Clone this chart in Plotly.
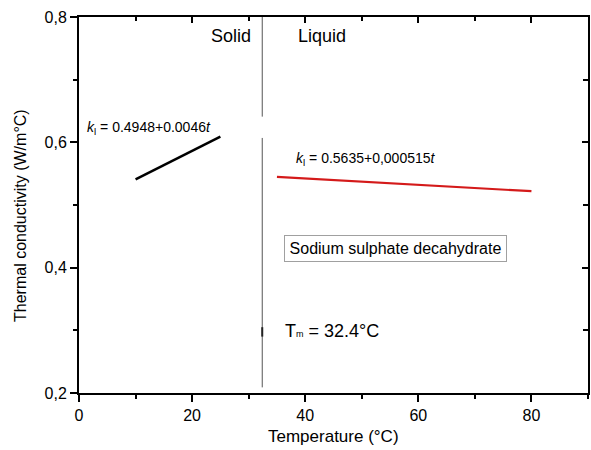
import plotly.graph_objects as go

# Measured thermal conductivity of sodium sulphate decahydrate
solid_t = [10, 25]
solid_k = [0.541, 0.609]
liquid_t = [35, 80]
liquid_k = [0.545, 0.522]

# Melting point marker (two segments with a gap around the equation, plus a short tick)
melt_t = 32.4
melt_upper = [0.641, 0.8]
melt_lower = [0.209, 0.607]
melt_mark = [0.290, 0.305]

x_ticks = [0, 20, 40, 60, 80]
y_ticks = [0.2, 0.4, 0.6, 0.8]
y_labels = ["0,2", "0,4", "0,6", "0,8"]

font_main = "Liberation Sans, Arial, sans-serif"

fig = go.Figure()

fig.add_trace(go.Scatter(x=[melt_t, melt_t], y=melt_upper, mode="lines",
                         line=dict(color="#555555", width=1), showlegend=False))
fig.add_trace(go.Scatter(x=[melt_t, melt_t], y=melt_lower, mode="lines",
                         line=dict(color="#555555", width=1), showlegend=False))
fig.add_trace(go.Scatter(x=[melt_t, melt_t], y=melt_mark, mode="lines",
                         line=dict(color="#222222", width=2), showlegend=False))
fig.add_trace(go.Scatter(x=solid_t, y=solid_k, mode="lines",
                         line=dict(color="black", width=2.5), showlegend=False))
fig.add_trace(go.Scatter(x=liquid_t, y=liquid_k, mode="lines",
                         line=dict(color="#d41a1a", width=2.2), showlegend=False))
# invisible trace to hold the mirrored top/right axes
fig.add_trace(go.Scatter(x=[0, 90], y=[0.2, 0.8], xaxis="x2", yaxis="y2",
                         mode="markers", marker=dict(opacity=0), showlegend=False,
                         hoverinfo="skip"))

axis_common = dict(showgrid=False, zeroline=False, showline=True,
                   linecolor="black", linewidth=2)

fig.update_layout(
    width=591, height=450,
    margin=dict(l=79, r=3, t=17, b=57),
    plot_bgcolor="white", paper_bgcolor="white",
    font=dict(family=font_main, color="black"),
    xaxis=dict(range=[0, 90], tickvals=x_ticks, ticks="outside", ticklen=7,
               tickwidth=2, tickcolor="black", tickfont=dict(size=16),
               minor=dict(dtick=10, ticks="outside", ticklen=4, tickwidth=1.5,
                          tickcolor="black"),
               **axis_common),
    yaxis=dict(range=[0.2, 0.8], tickvals=y_ticks, ticktext=y_labels,
               ticks="outside", ticklen=7, tickwidth=2, tickcolor="black",
               tickfont=dict(size=16),
               minor=dict(dtick=0.1, ticks="outside", ticklen=4, tickwidth=1.5,
                          tickcolor="black"),
               **axis_common),
    xaxis2=dict(range=[0, 90], overlaying="x", side="top", anchor="y",
                tickvals=x_ticks, ticks="inside", ticklen=6, tickwidth=2,
                tickcolor="black", showticklabels=False,
                minor=dict(dtick=10, ticks="inside", ticklen=4, tickwidth=1.5,
                           tickcolor="black"),
                **axis_common),
    yaxis2=dict(range=[0.2, 0.8], overlaying="y", side="right", anchor="x",
                tickvals=y_ticks, ticks="inside", ticklen=6, tickwidth=2,
                tickcolor="black", showticklabels=False,
                minor=dict(dtick=0.1, ticks="inside", ticklen=5, tickwidth=1.5,
                           tickcolor="black"),
                **axis_common),
)

annotations = [
    # axis titles
    dict(x=45.0, xref="x", y=0, yref="paper", yshift=-43, text="Temperature (°C)",
         xanchor="center", font=dict(size=17)),
    dict(x=0, xref="paper", xshift=-58, y=0.4825, yref="y",
         text="Thermal conductivity (W/m°C)", textangle=-90, xanchor="center",
         font=dict(size=16)),
    # phase labels
    dict(x=30.7, y=0.770, text="Solid", xanchor="right", font=dict(size=18)),
    dict(x=38.4, y=0.770, text="Liquid", xanchor="left", font=dict(size=18)),
    # fitted correlations
    dict(x=1.0, y=0.623, text="<i>k</i><sub>l</sub> = 0.4948+0.0046<i>t</i>",
         xanchor="left", font=dict(size=14)),
    dict(x=38.0, y=0.574, text="<i>k</i><sub>l</sub> = 0.5635+0,000515<i>t</i>",
         xanchor="left", font=dict(size=14)),
    # material label
    dict(x=36.3, y=0.430, text="Sodium sulphate decahydrate", xanchor="left",
         font=dict(size=16), bordercolor="#a0a0a0", borderwidth=1, borderpad=4,
         width=213, height=17, bgcolor="white"),
    # melting temperature
    dict(x=36.0, y=0.299,
         text="T<span style='font-size:9px'>m</span> = 32.4°C",
         xanchor="left", font=dict(size=18)),
]
for a in annotations:
    a.setdefault("xref", "x")
    a.setdefault("yref", "y")
    a.update(showarrow=False, yanchor="middle")
fig.update_layout(annotations=annotations)

fig.write_html("out.html")
